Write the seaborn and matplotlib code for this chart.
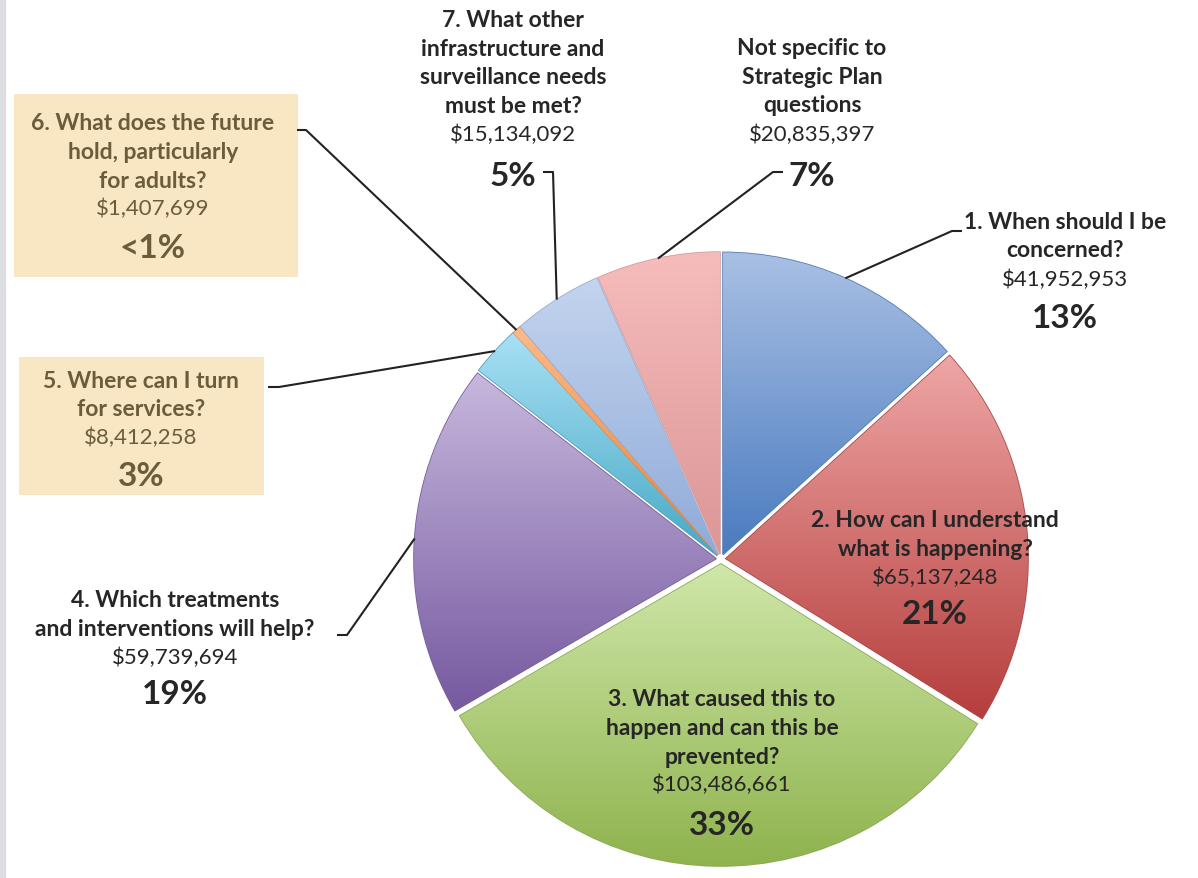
import numpy as np
import matplotlib
matplotlib.use("Agg")
import matplotlib.pyplot as plt
import seaborn as sns
from matplotlib.colors import LinearSegmentedColormap
from matplotlib.patches import Rectangle

# ---------------- data ----------------
categories = [
    "1. When should I be\nconcerned?",
    "2. How can I understand\nwhat is happening?",
    "3. What caused this to\nhappen and can this be\nprevented?",
    "4. Which treatments\nand interventions will help?",
    "5. Where can I turn\nfor services?",
    "6. What does the future\nhold, particularly\nfor adults?",
    "7. What other\ninfrastructure and\nsurveillance needs\nmust be met?",
    "Not specific to\nStrategic Plan\nquestions",
]
amounts = [41952953, 65137248, 103486661, 59739694, 8412258, 1407699, 15134092, 20835397]
amount_labels = ["$41,952,953", "$65,137,248", "$103,486,661", "$59,739,694",
                 "$8,412,258", "$1,407,699", "$15,134,092", "$20,835,397"]
pct_labels = ["13%", "21%", "33%", "19%", "3%", "<1%", "5%", "7%"]

light_cols = ["#a9c0e4", "#eea6a6", "#cfe7a8", "#c7b8dd", "#a8e0f4", "#fabb8c", "#c3d4ee", "#f6bcbc"]
dark_cols = ["#4a7bbf", "#b53e3c", "#8fb34e", "#7659a0", "#47a9c6", "#e8803c", "#90abd9", "#dc9696"]

# ---------------- layout (pixel coords, y from top) ----------------
W, H = 1198, 879
def Y(y):
    return H - y

# label block positions: (x, question_center_y, amount_y, pct_y)
label_pos = [
    (1065, 236.5, 280, 319),
    (935, 535, 578, 615),
    (722, 728.5, 785, 826),
    (175, 615, 658, 695),
    (141, 395.5, 438, 476),
    (153, 152.5, 209, 248),
    (513, 63.5, 135, 177),
    (812, 77, 135, 177),
]
leader_elbows = {
    0: [(962, 232), (952, 232)],
    3: [(337, 636), (347, 636)],
    4: [(268, 388), (279, 388)],
    5: [(297, 131), (306, 131)],
    6: [(543, 173), (553, 173)],
    7: [(783, 173), (773, 173)],
}
box_patches = {5: (14, 95, 298, 278), 4: (19, 358, 264, 496)}

sns.set_theme(style="white")
plt.rcParams["font.family"] = ["Lato", "DejaVu Sans"]

fig = plt.figure(figsize=(W / 100, H / 100), dpi=100)
fig.patch.set_facecolor("white")
ax = fig.add_axes([0, 0, 1, 1])
ax.set_xlim(0, W)
ax.set_ylim(0, H)
ax.axis("off")

fig.patches.append(Rectangle((0, 0), 5 / W, 1, transform=fig.transFigure,
                             color="#dcdde1", zorder=0))

palette = sns.color_palette(light_cols)
center = (721, Y(560))
radius = 302
explode = [5] * len(amounts)
wedges, _ = ax.pie(amounts, colors=palette, startangle=90, counterclock=False,
                   radius=radius, center=center, explode=explode,
                   frame=True,
                   wedgeprops=dict(linewidth=1.2, edgecolor="white"))

for i, w in enumerate(wedges):
    w.set_edgecolor(sns.desaturate(dark_cols[i], 0.8))
    th = np.radians(np.linspace(w.theta1, w.theta2, 60))
    cx, cy = w.center
    xs = np.r_[cx, cx + w.r * np.cos(th)]
    ys = np.r_[cy, cy + w.r * np.sin(th)]
    cmap = LinearSegmentedColormap.from_list("g%d" % i, [light_cols[i], dark_cols[i]])
    grad = np.linspace(0, 1, 256)[:, None]
    im = ax.imshow(grad, extent=(xs.min(), xs.max(), ys.min(), ys.max()),
                   origin="upper", cmap=cmap, aspect="auto", zorder=w.zorder + 0.1,
                   interpolation="bilinear")
    im.set_clip_path(w)

ax.set_xlim(0, W)
ax.set_ylim(0, H)
ax.set_aspect("equal")
ax.axis("off")

for i, (x0, y0, x1, y1) in box_patches.items():
    ax.add_patch(Rectangle((x0, Y(y1)), x1 - x0, y1 - y0, facecolor="#f9e6c2",
                           edgecolor="none", zorder=1))

for i, elbow in leader_elbows.items():
    w = wedges[i]
    mid = np.radians((w.theta1 + w.theta2) / 2)
    ex = w.center[0] + w.r * np.cos(mid)
    ey = w.center[1] + w.r * np.sin(mid)
    pts = [(x, Y(y)) for x, y in elbow] + [(ex, ey)]
    ax.plot([p[0] for p in pts], [p[1] for p in pts], color="#222222", lw=1.5,
            zorder=5, solid_capstyle="butt")

for i, (x, qy, ay, py) in enumerate(label_pos):
    col = "#6b5c3c" if i in box_patches else "#262626"
    ax.text(x, Y(qy), categories[i], ha="center", va="center", fontsize=16.5,
            fontweight="bold", color=col, linespacing=1.45, zorder=6)
    ax.text(x, Y(ay), amount_labels[i], ha="center", va="center", fontsize=16,
            color=col, zorder=6)
    ax.text(x, Y(py), pct_labels[i], ha="center", va="center", fontsize=24,
            fontweight="bold", color=col, zorder=6)

fig.savefig("out.png", dpi=100, facecolor="white")
